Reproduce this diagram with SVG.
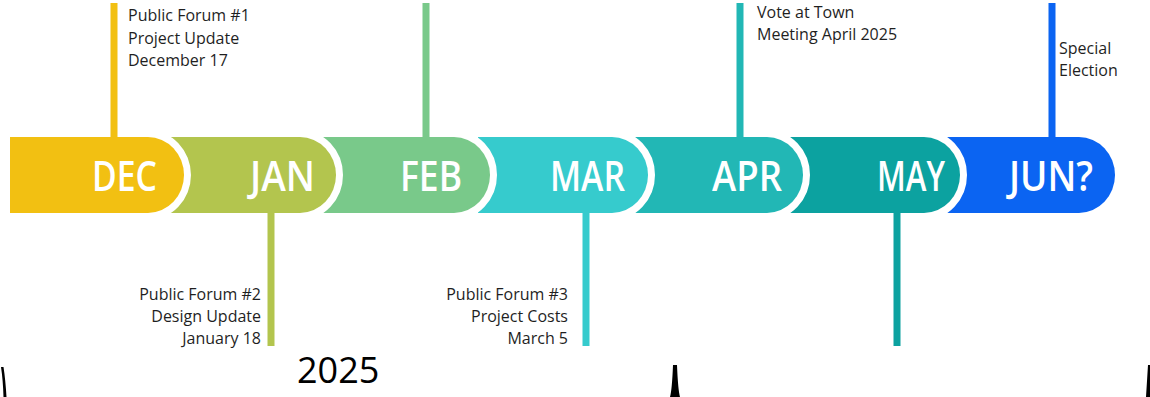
<svg xmlns="http://www.w3.org/2000/svg" width="1150" height="397" viewBox="0 0 1150 397">
<style>
.seg{stroke:#fff;stroke-width:14;paint-order:stroke;stroke-linejoin:round}
.mon{font-family:"Open Sans","DejaVu Sans",sans-serif;font-weight:600;font-size:42px;fill:#fff;text-anchor:end}
.lbl{font-family:"Open Sans","DejaVu Sans",sans-serif;font-size:16px;fill:#1f1f1f}
.r{text-anchor:end}
.stem{stroke-width:7}
</style>
<rect width="1150" height="397" fill="#fff"/>
<g id="jun"><path class="seg" fill="#0B64F2" d="M945,137 H1079 A36,38 0 0 1 1079,213 H945 Z"/><text class="mon" x="1093" y="191" textLength="84" lengthAdjust="spacingAndGlyphs">JUN?</text></g>
<g id="may"><path class="seg" fill="#0CA2A0" d="M790,137 H924 A36,38 0 0 1 924,213 H790 Z"/><text class="mon" x="945" y="191" textLength="68" lengthAdjust="spacingAndGlyphs">MAY</text></g>
<g id="apr"><path class="seg" fill="#22B7B5" d="M633,137 H767 A36,38 0 0 1 767,213 H633 Z"/><text class="mon" x="782" y="191" textLength="70" lengthAdjust="spacingAndGlyphs">APR</text></g>
<g id="mar"><path class="seg" fill="#36CBCD" d="M478,137 H612 A36,38 0 0 1 612,213 H478 Z"/><text class="mon" x="625" y="191" textLength="75" lengthAdjust="spacingAndGlyphs">MAR</text></g>
<g id="feb"><path class="seg" fill="#79C98A" d="M320,137 H454 A36,38 0 0 1 454,213 H320 Z"/><text class="mon" x="462" y="191" textLength="62" lengthAdjust="spacingAndGlyphs">FEB</text></g>
<g id="jan"><path class="seg" fill="#B3C54E" d="M165,137 H300 A36,38 0 0 1 300,213 H165 Z"/><text class="mon" x="315" y="191" textLength="65" lengthAdjust="spacingAndGlyphs">JAN</text></g>
<g id="dec"><path fill="#fff" d="M14,130 H148 A43,45 0 0 1 148,220 H14 Z"/><path fill="#F2C012" d="M10,137 H148 A36,38 0 0 1 148,213 H10 Z"/><text class="mon" x="157" y="191" textLength="65" lengthAdjust="spacingAndGlyphs">DEC</text></g>
<g id="connectors">
<line class="stem" x1="114" y1="3" x2="114" y2="138" stroke="#F2C012" stroke-width="6"/>
<line class="stem" x1="426" y1="3" x2="426" y2="138" stroke="#79C98A"/>
<line class="stem" x1="740" y1="3" x2="740" y2="138" stroke="#22B7B5"/>
<line class="stem" x1="1052" y1="3" x2="1052" y2="138" stroke="#0B64F2"/>
<line class="stem" x1="271" y1="212" x2="271" y2="346" stroke="#B3C54E"/>
<line class="stem" x1="586" y1="212" x2="586" y2="346" stroke="#36CBCD"/>
<line class="stem" x1="897" y1="212" x2="897" y2="346" stroke="#0CA2A0"/>
</g>
<g id="label-dec"><text class="lbl" x="128" y="21">Public Forum #1</text><text class="lbl" x="128" y="44">Project Update</text><text class="lbl" x="128" y="66">December 17</text></g>
<g id="label-apr"><text class="lbl" x="757" y="18">Vote at Town</text><text class="lbl" x="757" y="40">Meeting April 2025</text></g>
<g id="label-jun"><text class="lbl" x="1059" y="54">Special</text><text class="lbl" x="1059" y="76">Election</text></g>
<g id="label-jan"><text class="lbl r" x="261" y="300">Public Forum #2</text><text class="lbl r" x="261" y="322">Design Update</text><text class="lbl r" x="261" y="344">January 18</text></g>
<g id="label-mar"><text class="lbl r" x="568" y="300">Public Forum #3</text><text class="lbl r" x="568" y="322">Project Costs</text><text class="lbl r" x="568" y="344">March 5</text></g>
<text x="297" y="383" font-family="Open Sans, DejaVu Sans, sans-serif" font-size="36" fill="#000">2025</text>
<path d="M1,367 Q3,380 3.5,397 L6.5,397 Q5.5,380 3.5,367 Z" fill="#000"/>
<path d="M673,365 L677,365 Q678,390 680,397 L670,397 Q672,390 673,365 Z" fill="#000"/>
<path d="M1148,365 L1150,365 L1150,397 L1146,397 Z" fill="#000"/>
</svg>
